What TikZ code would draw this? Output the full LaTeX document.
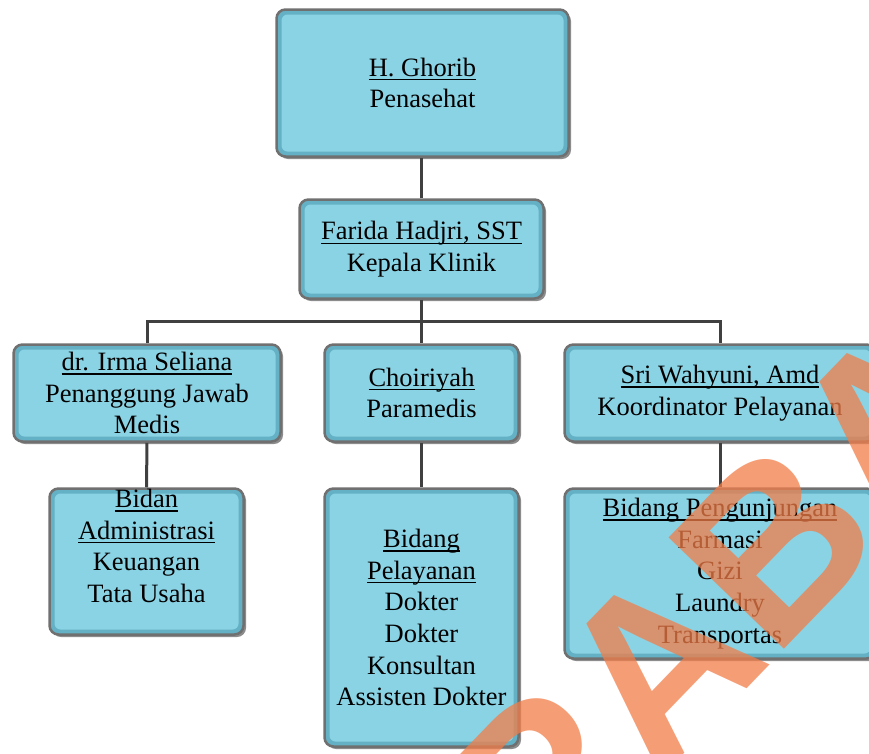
\documentclass[tikz,border=0pt]{standalone}
\usepackage{fontspec}
\setmainfont{Liberation Serif}
\newfontfamily\capfont{Liberation Sans}
\usetikzlibrary{shadows}
\definecolor{isibiru}{RGB}{138,211,228}
\definecolor{tepibiru}{RGB}{100,176,196}
\definecolor{bingkai}{RGB}{112,112,112}
\definecolor{garisgelap}{RGB}{64,64,64}
\definecolor{jingga}{RGB}{242,125,72}
% garis bawah dengan kedalaman tetap
\newcommand{\gbw}[1]{\leavevmode\setbox0\hbox{#1}\rlap{\vrule height -3pt depth 4.2pt width \wd0}\box0}
\tikzset{
  kotak/.style={rectangle, rounded corners=9pt, draw=bingkai, line width=2.5pt,
    fill=tepibiru, align=center, inner sep=0pt,
    font=\fontsize{26.5}{31.7}\selectfont,
    drop shadow={shadow xshift=2.5pt, shadow yshift=-2.5pt, fill=black, opacity=.45},
    path picture={\fill[isibiru, rounded corners=6pt]
      ([shift={(5pt,5pt)}]path picture bounding box.south west) rectangle
      ([shift={(-5pt,-5pt)}]path picture bounding box.north east);}},
  garis/.style={draw=garisgelap, line width=3pt},
  capair/.style={anchor=base west, rotate=46, inner sep=0pt, text=jingga,
    text opacity=.75, font=\capfont\bfseries\fontsize{233}{240}\selectfont},
}
\begin{document}
\begin{tikzpicture}[x=1pt,y=-1pt]
                \useasboundingbox (0,0) rectangle (869,753) ;
                \begin{scope}
                \clip (0,0) rectangle (869,753) ;
                % pimpinan
                \draw (422.5,83) node[kotak,minimum width=292pt,minimum height=147pt] (ghorib)
                    {\gbw{H. Ghorib}\\Penasehat} ;
                \draw (421.5,249) node[kotak,minimum width=244pt,minimum height=99pt] (farida)
                    {\gbw{Farida Hadjri, SST}\\Kepala Klinik} ;
                % baris kedua
                \draw (147,393) node[kotak,minimum width=267pt,minimum height=97pt] (irma)
                    {\gbw{dr. Irma Seliana}\\Penanggung Jawab\\Medis} ;
                \draw (421.5,393) node[kotak,minimum width=194pt,minimum height=97pt] (choir)
                    {\gbw{Choiriyah}\\Paramedis} ;
                \draw (720,393) node[kotak,minimum width=311pt,minimum height=97pt] (sri)
                    {\gbw{Sri Wahyuni, Amd}\\Koordinator Pelayanan} ;
                % baris ketiga
                \draw (146.5,561.5) node[kotak,minimum width=194pt,minimum height=146pt] (bidan)
                    {\gbw{Bidan}\\\gbw{Administrasi}\\Keuangan\\Tata Usaha\\\mbox{}} ;
                \draw (421.5,617.5) node[kotak,minimum width=194pt,minimum height=258pt] (pelayanan)
                    {\gbw{Bidang}\\\gbw{Pelayanan}\\Dokter\\Dokter\\Konsultan\\Assisten Dokter} ;
                \draw (720,573.5) node[kotak,minimum width=311pt,minimum height=170pt] (pengunjung)
                    {\gbw{Bidang Pengunjungan}\\Farmasi\\Gizi\\Laundry\\Transportas} ;
                % garis
                \coordinate (cabang) at (421.5,321) ;
                \draw[garis] (farida.north) -- (farida.north |- ghorib.south) ;
                \draw[garis] (farida.south) -- (choir.north) ;
                \draw[garis] (irma.north) |- (cabang) -| (sri.north) ;
                \draw[garis] (irma.south) -- (bidan.north) ;
                \draw[garis] (choir.south) -- (pelayanan.north) ;
                \draw[garis] (sri.south) -- (pengunjung.north) ;
                % cap air
                \draw (540,903) node[capair] (cap) {RABA} ;
                \end{scope}
\end{tikzpicture}
\end{document}
